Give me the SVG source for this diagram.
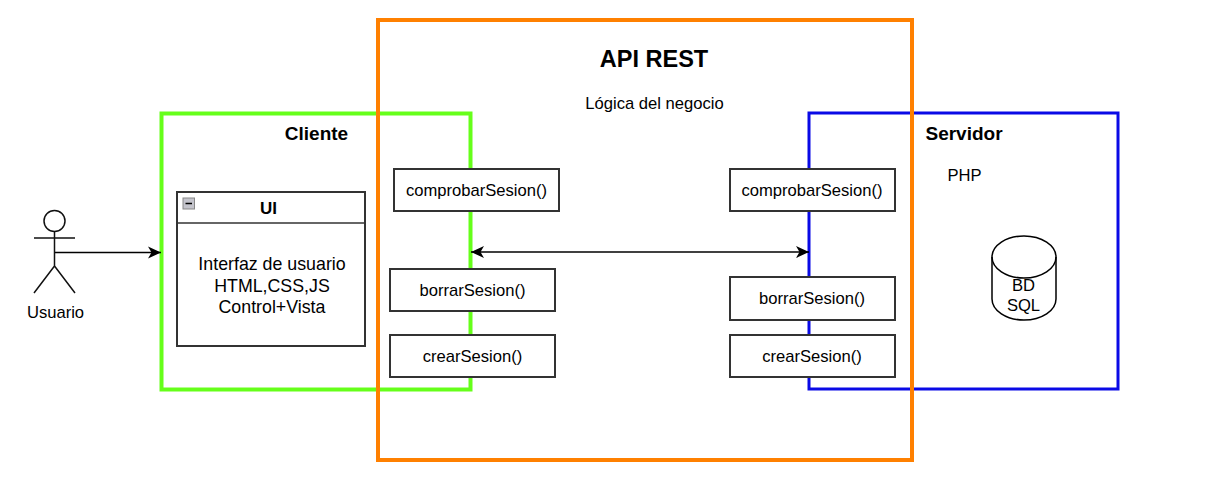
<svg xmlns="http://www.w3.org/2000/svg" width="1210" height="496" viewBox="0 0 1210 496">
<style>
text{font-family:"Liberation Sans",Arial,sans-serif;font-size:16.6px;fill:#000;text-anchor:middle}
.b{font-weight:bold}
.h{font-size:19px}
.m{font-size:17.8px}
.box{fill:#fff;stroke:#333;stroke-width:2}
.ln{fill:none;stroke:#000;stroke-width:1.500}
.ac{fill:none;stroke:#111;stroke-width:1.500}
</style>
<defs>
<marker id="ah" markerUnits="userSpaceOnUse" markerWidth="15" markerHeight="14" refX="13" refY="6" orient="auto-start-reverse" viewBox="0 0 15 12"><path d="M0 0L13 6L0 12L3.500 6Z" fill="#000"/></marker>
</defs>
<rect width="1210" height="496" fill="#fff"/>
<g id="cliente"><rect x="161.500" y="113.500" width="309" height="276" fill="none" stroke="#66ff1a" stroke-width="4"/><text class="b h" x="316.500" y="139.500">Cliente</text></g>
<g id="servidor"><rect x="809" y="113" width="309" height="276" fill="none" stroke="#0a0ae6" stroke-width="3"/><text class="b h" x="964" y="139.500">Servidor</text><text x="964.500" y="181">PHP</text></g>
<g id="api"><rect x="378" y="20" width="534" height="440" fill="none" stroke="#ff8000" stroke-width="4"/><text class="b" x="654" y="67" style="font-size:23.500px">API REST</text><text x="654.500" y="109">Lógica del negocio</text></g>
<g id="connectors">
<path class="ln" d="M54.500 252.500H161" marker-end="url(#ah)"/>
<path class="ln" d="M471 252H809" marker-start="url(#ah)" marker-end="url(#ah)"/>
</g>
<g id="usuario"><circle class="ac" cx="54.500" cy="221" r="10.500"/><path class="ac" d="M54.500 231.500V266M34 238H75M54.500 266L34 293M54.500 266L75 293"/><text x="55.500" y="317.500">Usuario</text></g>
<g id="ui"><rect class="box" x="177" y="192" width="188" height="154"/><path d="M177 223H365" stroke="#333" stroke-width="1.500"/><rect x="183" y="198" width="11.500" height="11" fill="#c4c4cc" stroke="#888"/><path d="M185.500 203.500H192" stroke="#000" stroke-width="1.500"/><text class="b" x="268.500" y="214" style="font-size:17px">UI</text><text class="m" x="272" y="270">Interfaz de usuario</text><text class="m" x="272" y="291.500">HTML,CSS,JS</text><text class="m" x="272" y="312.500">Control+Vista</text></g>
<g id="comprobar-c"><rect class="box" x="394" y="169" width="165" height="42"/><text x="476.500" y="196">comprobarSesion()</text></g>
<g id="borrar-c"><rect class="box" x="390" y="269" width="165" height="42"/><text x="472.500" y="296">borrarSesion()</text></g>
<g id="crear-c"><rect class="box" x="390" y="335" width="165" height="42"/><text x="472.500" y="362">crearSesion()</text></g>
<g id="comprobar-s"><rect class="box" x="730" y="169" width="165" height="42"/><text x="812" y="196">comprobarSesion()</text></g>
<g id="borrar-s"><rect class="box" x="730" y="277" width="165" height="43"/><text x="812" y="304">borrarSesion()</text></g>
<g id="crear-s"><rect class="box" x="730" y="335" width="165" height="42"/><text x="812" y="362">crearSesion()</text></g>
<g id="bd"><path d="M992 257A32 21 0 0 1 1056 257V299A32 21 0 0 1 992 299Z" fill="#fff" stroke="#000" stroke-width="1.500"/><path d="M992 257A32 21 0 0 0 1056 257" fill="none" stroke="#000" stroke-width="1.500"/><text x="1023.500" y="291">BD</text><text x="1023.500" y="310.500">SQL</text></g>
</svg>
